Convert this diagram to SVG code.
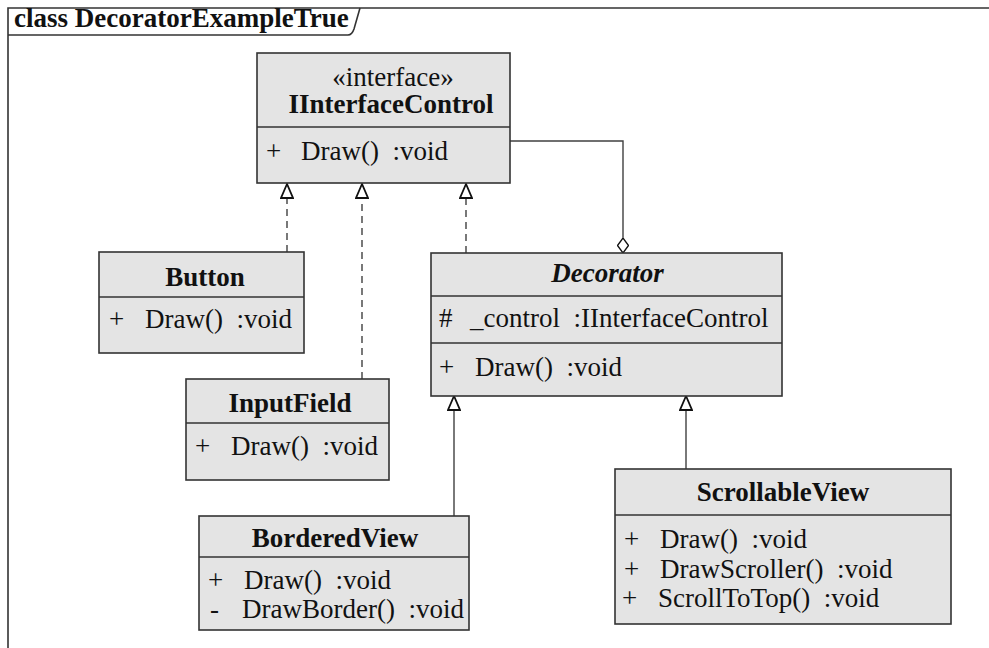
<svg xmlns="http://www.w3.org/2000/svg" width="989" height="648" viewBox="0 0 989 648">
<defs>
<style>
text{font-family:"Liberation Serif","Times New Roman",serif;font-size:27px;fill:#111;white-space:pre}
.b{font-weight:bold}
.bi{font-weight:bold;font-style:italic}
.m{text-anchor:middle}
.box{fill:#e4e4e4;stroke:#333;stroke-width:1.6}
.div{stroke:#333;stroke-width:1.6}
.frame{fill:none;stroke:#333;stroke-width:1.6}
.dash{fill:none;stroke:#404040;stroke-width:1.4;stroke-dasharray:7,5}
.solid{fill:none;stroke:#404040;stroke-width:1.4}
</style>
<marker id="tri" viewBox="0 0 16 14" refX="15" refY="7" markerWidth="16" markerHeight="14" markerUnits="userSpaceOnUse" orient="auto">
<path d="M15,7 L1,1 L1,13 Z" fill="#fff" stroke="#111" stroke-width="1.8"/>
</marker>
<marker id="dia" viewBox="0 0 12 16" refX="6" refY="15.5" markerWidth="12" markerHeight="16" markerUnits="userSpaceOnUse" orient="0">
<path d="M6,0.5 L11.5,8 L6,15.5 L0.5,8 Z" fill="#fff" stroke="#111" stroke-width="1.3"/>
</marker>
</defs>
<rect width="989" height="648" fill="#fff"/>
<g id="frame">
<path class="frame" d="M8,648 L8,8 L989,8"/>
<path class="frame" d="M8,35 L348,35 Q352,35 354,29 L360,8"/>
<text class="b" x="14" y="27">class DecoratorExampleTrue</text>
</g>
<g id="connectors">
<path class="dash" d="M287,252 L287,184" marker-end="url(#tri)"/>
<path class="dash" d="M362,379 L362,184" marker-end="url(#tri)"/>
<path class="dash" d="M466,253 L466,184" marker-end="url(#tri)"/>
<path class="solid" d="M510,141 L623,141 L623,253" marker-end="url(#dia)"/>
<path class="solid" d="M454,516 L454,396" marker-end="url(#tri)"/>
<path class="solid" d="M686,469 L686,396" marker-end="url(#tri)"/>
</g>
<g id="IInterfaceControl">
<rect class="box" x="257" y="53" width="253" height="130"/>
<line class="div" x1="257" y1="127" x2="510" y2="127"/>
<text class="m" x="393" y="86">«interface»</text>
<text class="b m" x="391" y="113">IInterfaceControl</text>
<text y="160"><tspan x="266">+</tspan><tspan x="301">Draw()  :void</tspan></text>
</g>
<g id="Button">
<rect class="box" x="99" y="252" width="205" height="101"/>
<line class="div" x1="99" y1="297" x2="304" y2="297"/>
<text class="b m" x="205" y="286">Button</text>
<text y="328"><tspan x="109">+</tspan><tspan x="145">Draw()  :void</tspan></text>
</g>
<g id="InputField">
<rect class="box" x="186" y="379" width="203" height="101"/>
<line class="div" x1="186" y1="423" x2="389" y2="423"/>
<text class="b m" x="290" y="412">InputField</text>
<text y="455"><tspan x="195">+</tspan><tspan x="231">Draw()  :void</tspan></text>
</g>
<g id="Decorator">
<rect class="box" x="431" y="253" width="351" height="143"/>
<line class="div" x1="431" y1="296" x2="782" y2="296"/>
<line class="div" x1="431" y1="343" x2="782" y2="343"/>
<text class="bi m" x="607.5" y="282">Decorator</text>
<text y="327"><tspan x="439">#</tspan><tspan x="470">_control  :IInterfaceControl</tspan></text>
<text y="376"><tspan x="439">+</tspan><tspan x="475">Draw()  :void</tspan></text>
</g>
<g id="BorderedView">
<rect class="box" x="199" y="516" width="270" height="114"/>
<line class="div" x1="199" y1="557" x2="469" y2="557"/>
<text class="b m" x="335" y="547">BorderedView</text>
<text y="589"><tspan x="208">+</tspan><tspan x="244">Draw()  :void</tspan></text>
<text y="618"><tspan x="210">-</tspan><tspan x="242">DrawBorder()  :void</tspan></text>
</g>
<g id="ScrollableView">
<rect class="box" x="615" y="469" width="336" height="155"/>
<line class="div" x1="615" y1="515" x2="951" y2="515"/>
<text class="b m" x="783" y="501">ScrollableView</text>
<text y="548"><tspan x="624">+</tspan><tspan x="660">Draw()  :void</tspan></text>
<text y="578"><tspan x="624">+</tspan><tspan x="660">DrawScroller()  :void</tspan></text>
<text y="607"><tspan x="622">+</tspan><tspan x="658">ScrollToTop()  :void</tspan></text>
</g>
</svg>
